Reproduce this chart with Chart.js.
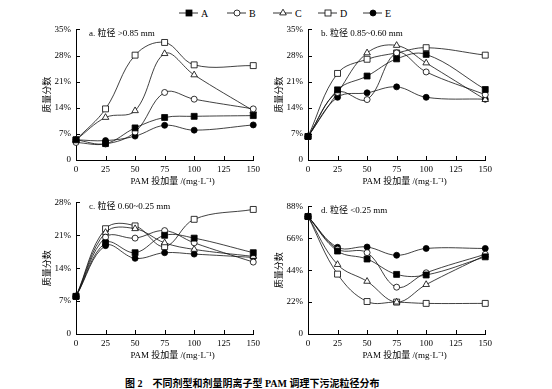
<!DOCTYPE html>
<html>
<head>
<meta charset="utf-8">
<script src="https://cdn.jsdelivr.net/npm/chart.js@4.4.1/dist/chart.umd.min.js"></script>
<style>
  body { margin: 0; background: #fff; width: 552px; height: 389px; position: relative; overflow: hidden;
         font-family: "Liberation Serif", "Noto Sans CJK SC", serif; }
  canvas { position: absolute; }
  #legend { position: absolute; left: 0; top: 0; }
  #caption { position: absolute; left: 125px; top: 375px; font-size: 10px; font-weight: bold; white-space: nowrap; }
</style>
</head>
<body>
<svg id="legend" width="552" height="26"></svg>
<canvas id="chartA" style="left:30px;top:19px" width="234" height="169"></canvas>
<canvas id="chartB" style="left:262px;top:19px" width="234" height="169"></canvas>
<canvas id="chartC" style="left:30px;top:192px" width="234" height="170"></canvas>
<canvas id="chartD" style="left:262px;top:196px" width="234" height="166"></canvas>
<div id="caption">图 2　不同剂型和剂量阴离子型 PAM 调理下污泥粒径分布</div>

<script>
// PAM dose (mg/L) and series names
const doses = [0, 25, 50, 75, 100, 150];
const seriesNames = ["A", "B", "C", "D", "E"];

// a. 粒径 >0.85 mm  (%)
const aA = [5.4, 4.4, 8.6, 11.4, 11.7, 11.9];
const aB = [4.7, 4.3, 7.5, 18.1, 16.3, 13.7];
const aC = [5.4, 11.4, 13.2, 28.5, 22.8, 13.2];
const aD = [5.4, 13.7, 28.1, 31.5, 25.5, 25.3];
const aE = [5.4, 5.2, 6.4, 9.3, 8.0, 9.4];

// b. 粒径 0.85~0.60 mm
const bA = [6.3, 18.8, 22.5, 27.1, 28.3, 18.9];
const bB = [6.3, 18.1, 16.2, 28.7, 23.6, 17.5];
const bC = [6.3, 18.0, 28.7, 30.7, 26.0, 16.2];
const bD = [6.3, 23.2, 27.0, 28.7, 30.1, 28.1];
const bE = [6.3, 16.8, 18.0, 19.6, 16.8, 16.3];

// c. 粒径 0.60~0.25 mm
const cA = [8.0, 19.4, 17.3, 21.0, 20.4, 17.3];
const cB = [8.0, 20.6, 20.4, 22.0, 19.4, 15.3];
const cC = [8.0, 21.6, 22.4, 19.4, 18.0, 16.5];
const cD = [8.0, 22.4, 23.0, 18.6, 24.4, 26.5];
const cE = [8.0, 18.8, 16.1, 17.3, 17.0, 16.3];

// d. 粒径 <0.25 mm
const dA = [81, 57.2, 51.7, 41.1, 40.7, 53.2];
const dB = [81, 58.5, 56.1, 32.3, 42.2, 55.0];
const dC = [81, 47.9, 36.3, 22.0, 34.1, 54.3];
const dD = [81, 41.3, 22.4, 22.0, 21.1, 21.1];
const dE = [81, 59.8, 60.0, 54.3, 59.0, 59.0];

const xTitle = "PAM 投加量 /(mg·L⁻¹)";
const yTitle = "质量分数";
const FONT = '"Liberation Serif", "Noto Sans CJK SC", serif';

const markerStyles = [
  { pointStyle: "rect", fill: "#000", radius: 4.2 },
  { pointStyle: "circle", fill: "#fff", radius: 3 },
  { pointStyle: "triangle", fill: "#fff", radius: 3.8 },
  { pointStyle: "rect", fill: "#fff", radius: 4.2 },
  { pointStyle: "circle", fill: "#000", radius: 3 },
];

// inward ticks, x title, y title and panel label
const decorPlugin = {
  id: "decor",
  afterDraw(chart, args, opts) {
    const ctx = chart.ctx;
    const { left, right, top, bottom } = chart.chartArea;
    const xs = chart.scales.x, ys = chart.scales.y;
    ctx.save();
    ctx.strokeStyle = "#000";
    ctx.lineWidth = 1;
    ctx.beginPath();
    xs.ticks.forEach((t) => {
      const px = Math.round(xs.getPixelForValue(t.value)) + 0.5;
      ctx.moveTo(px, bottom); ctx.lineTo(px, bottom - 4);
    });
    ys.ticks.forEach((t) => {
      const py = Math.round(ys.getPixelForValue(t.value)) + 0.5;
      ctx.moveTo(left, py); ctx.lineTo(left + 4, py);
    });
    ctx.stroke();

    ctx.fillStyle = "#000";
    ctx.font = "9px " + FONT;
    ctx.textAlign = "center";
    ctx.textBaseline = "middle";
    ctx.fillText(xTitle, (left + right) / 2 + 8, bottom + 22);

    ctx.save();
    ctx.translate(left - 28, (top + bottom) / 2);
    ctx.rotate(-Math.PI / 2);
    ctx.fillText(yTitle, 0, 0);
    ctx.restore();

    ctx.textAlign = "left";
    ctx.fillText(opts.label, left + 13, top + 4);
    ctx.restore();
  },
};

const makePanel = (id, seriesList, yMax, yStep, label) => {
  const datasets = seriesList.map((vals, i) => ({
    label: seriesNames[i],
    data: vals.map((v, j) => ({ x: doses[j], y: v })),
    borderColor: "#111",
    borderWidth: 0.8,
    tension: 0.38,
    pointStyle: markerStyles[i].pointStyle,
    pointRadius: markerStyles[i].radius,
    pointBackgroundColor: markerStyles[i].fill,
    pointBorderColor: "#000",
    pointBorderWidth: 0.8,
    clip: false,
  }));

  const config = {
    type: "line",
    data: { datasets },
    options: {
      responsive: false,
      animation: false,
      layout: { padding: { top: 6, right: 10, left: 0, bottom: 0 } },
      plugins: {
        legend: { display: false },
        tooltip: { enabled: false },
        decor: { label },
      },
      scales: {
        x: {
          type: "linear",
          min: 0,
          max: 150,
          ticks: { stepSize: 25, color: "#000", font: { family: FONT, size: 9 }, padding: 4, maxRotation: 0 },
          grid: { display: false, drawTicks: false, tickLength: 0 },
          border: { display: true, color: "#000", width: 1 },
          afterFit: (s) => { s.height = 28; },
        },
        y: {
          min: 0,
          max: yMax,
          ticks: {
            stepSize: yStep,
            color: "#000",
            font: { family: FONT, size: 9 },
            padding: 5,
            callback: (v) => (v === 0 ? "0" : v + "%"),
          },
          grid: { display: false, drawTicks: false, tickLength: 0 },
          border: { display: true, color: "#000", width: 1 },
          afterFit: (s) => { s.width = 46; },
        },
      },
    },
    plugins: [decorPlugin],
  };
  return new Chart(document.getElementById(id), config);
};

makePanel("chartA", [aA, aB, aC, aD, aE], 35, 7, "a. 粒径 >0.85 mm");
makePanel("chartB", [bA, bB, bC, bD, bE], 35, 7, "b. 粒径 0.85~0.60 mm");
makePanel("chartC", [cA, cB, cC, cD, cE], 28, 7, "c. 粒径 0.60~0.25 mm");
makePanel("chartD", [dA, dB, dC, dD, dE], 88, 22, "d. 粒径 <0.25 mm");

// legend (line with marker, then name)
const legendX = [189, 237, 283, 328, 373];
const svg = document.getElementById("legend");
const NS = "http://www.w3.org/2000/svg";
const el = (tag, attrs) => {
  const e = document.createElementNS(NS, tag);
  Object.entries(attrs).forEach(([k, v]) => e.setAttribute(k, v));
  svg.appendChild(e);
  return e;
};
seriesNames.forEach((name, i) => {
  const cx = legendX[i], cy = 13;
  el("line", { x1: cx - 10, y1: cy, x2: cx + 9, y2: cy, stroke: "#000", "stroke-width": 0.8 });
  const m = markerStyles[i];
  const attrs = { fill: m.fill, stroke: "#000", "stroke-width": 0.8 };
  if (m.pointStyle === "rect") el("rect", { x: cx - 3, y: cy - 3, width: 6, height: 6, ...attrs });
  else if (m.pointStyle === "circle") el("circle", { cx, cy, r: 3, ...attrs });
  else el("polygon", { points: `${cx},${cy - 3.8} ${cx + 3.3},${cy + 1.9} ${cx - 3.3},${cy + 1.9}`, ...attrs });
  const t = el("text", { x: cx + 12, y: cy + 3.5, "font-size": 10, "font-family": FONT });
  t.textContent = name;
});
</script>
</body>
</html>
